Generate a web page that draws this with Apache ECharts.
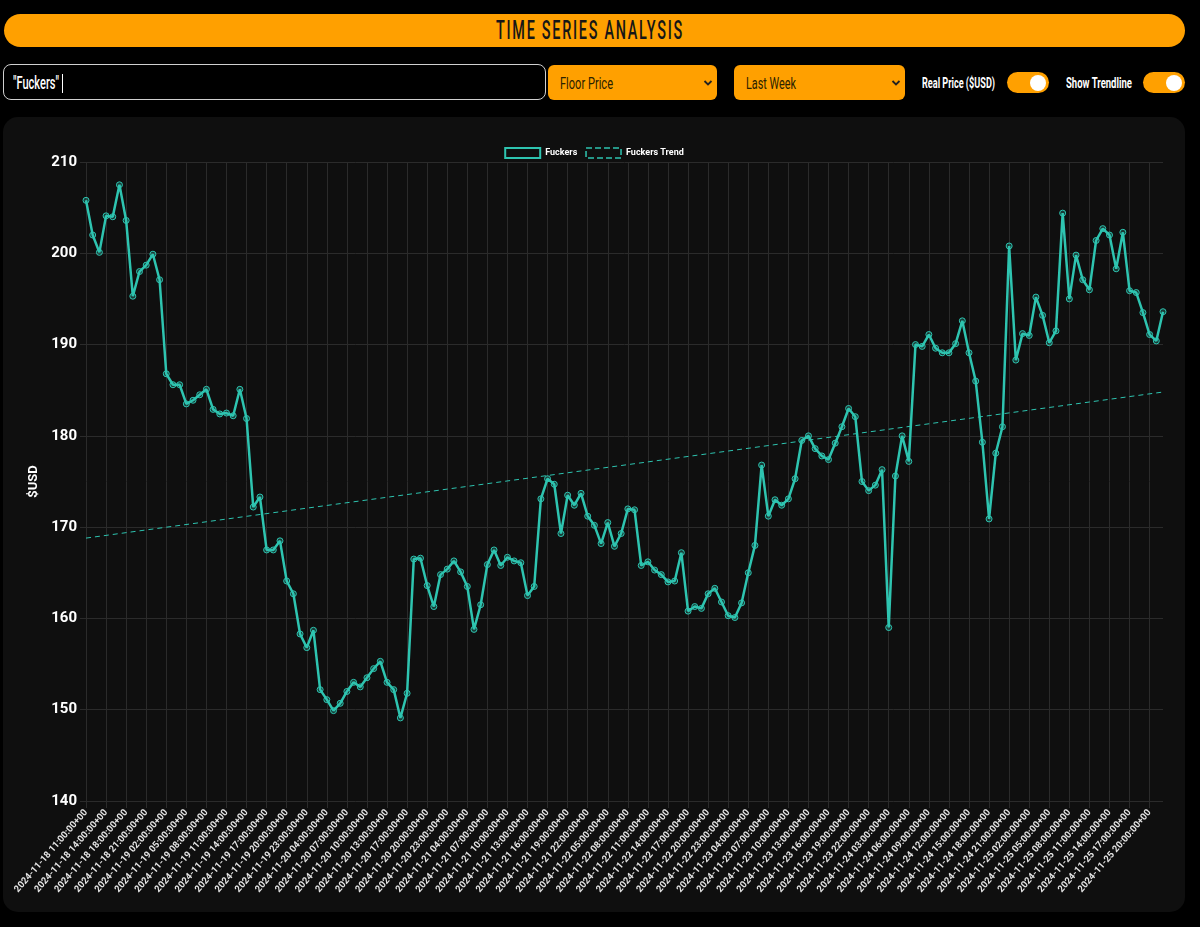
<!DOCTYPE html>
<html>
<head>
<meta charset="utf-8">
<script src="https://cdn.jsdelivr.net/npm/echarts@6/dist/echarts.min.js"></script>
<style>
  html, body { margin: 0; padding: 0; background: #000; width: 1200px; height: 927px; overflow: hidden; }
  body { font-family: Roboto, "Liberation Sans", sans-serif; position: relative; }
  .fit { display: inline-block; white-space: nowrap; transform-origin: 0 50%; }
  .title { position: absolute; left: 4px; top: 14px; width: 1181px; height: 33px; background: #ffa000; border-radius: 17px; }
  .title .fit { position: absolute; top: 3px; font-size: 25px; line-height: 28px; letter-spacing: 3px; color: #161616; font-weight: 500; }
  .search { position: absolute; left: 3px; top: 64px; width: 541px; height: 34px; border: 1.5px solid #d0d0d0; border-radius: 8px; background: #000; }
  .search .fit { position: absolute; left: 9px; top: 7px; color: #fff; font-size: 19px; line-height: 22px; font-weight: 500; }
  .caret { position: absolute; left: 58px; top: 9px; width: 1.2px; height: 19px; background: #fff; }
  .select { position: absolute; top: 65px; height: 35px; background: #ffa000; border-radius: 6px; }
  .select .fit { position: absolute; left: 12px; top: 8px; color: #2a2200; font-size: 17px; line-height: 21px; }
  .select svg { position: absolute; right: 4px; top: 14px; }
  .lbl { position: absolute; top: 74px; color: #fff; font-size: 15px; line-height: 18px; font-weight: bold; }
  .toggle { position: absolute; top: 72px; width: 42px; height: 21px; background: #ffa000; border-radius: 11px; }
  .toggle::after { content: ""; position: absolute; right: 3px; top: 2.5px; width: 16px; height: 16px; border-radius: 50%; background: #fff; }
  .panel { position: absolute; left: 3px; top: 117px; width: 1182px; height: 795px; background: #0f0f0f; border-radius: 15px; }
  #chart { position: absolute; left: 0; top: 0; width: 1182px; height: 795px; }
</style>
</head>
<body>
<div class="title"><span class="fit" data-w="188" data-x="496">TIME SERIES ANALYSIS</span></div>
<div class="search"><span class="fit" data-w="46">"Fuckers"</span><span class="caret"></span></div>
<div class="select" style="left:548px; width:169px;"><span class="fit" data-w="53">Floor Price</span>
  <svg width="10" height="8" viewBox="0 0 10 8"><path d="M1.5 2 L5 5.5 L8.5 2" stroke="#222" stroke-width="1.8" fill="none"/></svg></div>
<div class="select" style="left:734px; width:171px;"><span class="fit" data-w="50">Last Week</span>
  <svg width="10" height="8" viewBox="0 0 10 8"><path d="M1.5 2 L5 5.5 L8.5 2" stroke="#222" stroke-width="1.8" fill="none"/></svg></div>
<div class="lbl fit" style="left:922px;" data-w="73">Real Price ($USD)</div>
<div class="toggle" style="left:1007px;"></div>
<div class="lbl fit" style="left:1066px;" data-w="66">Show Trendline</div>
<div class="toggle" style="left:1143px;"></div>
<div class="panel"><div id="chart"></div></div>
<script>
// Shown tick labels (every third category)
const tickLabels = [
  "2024-11-18 11:00:00+00","2024-11-18 14:00:00+00","2024-11-18 18:00:00+00","2024-11-18 21:00:00+00",
  "2024-11-19 02:00:00+00","2024-11-19 05:00:00+00","2024-11-19 08:00:00+00","2024-11-19 11:00:00+00",
  "2024-11-19 14:00:00+00","2024-11-19 17:00:00+00","2024-11-19 20:00:00+00","2024-11-19 23:00:00+00",
  "2024-11-20 04:00:00+00","2024-11-20 07:00:00+00","2024-11-20 10:00:00+00","2024-11-20 13:00:00+00",
  "2024-11-20 17:00:00+00","2024-11-20 20:00:00+00","2024-11-20 23:00:00+00",
  "2024-11-21 04:00:00+00","2024-11-21 07:00:00+00","2024-11-21 10:00:00+00","2024-11-21 13:00:00+00",
  "2024-11-21 16:00:00+00","2024-11-21 19:00:00+00","2024-11-21 22:00:00+00",
  "2024-11-22 05:00:00+00","2024-11-22 08:00:00+00","2024-11-22 11:00:00+00","2024-11-22 14:00:00+00",
  "2024-11-22 17:00:00+00","2024-11-22 20:00:00+00","2024-11-22 23:00:00+00",
  "2024-11-23 04:00:00+00","2024-11-23 07:00:00+00","2024-11-23 10:00:00+00","2024-11-23 13:00:00+00",
  "2024-11-23 16:00:00+00","2024-11-23 19:00:00+00","2024-11-23 22:00:00+00",
  "2024-11-24 03:00:00+00","2024-11-24 06:00:00+00","2024-11-24 09:00:00+00","2024-11-24 12:00:00+00",
  "2024-11-24 15:00:00+00","2024-11-24 18:00:00+00","2024-11-24 21:00:00+00",
  "2024-11-25 02:00:00+00","2024-11-25 05:00:00+00","2024-11-25 08:00:00+00","2024-11-25 11:00:00+00",
  "2024-11-25 14:00:00+00","2024-11-25 17:00:00+00","2024-11-25 20:00:00+00"
];

// Floor price (USD), one value per hourly category
const floorPrice = [
  205.8,202.0,200.1,204.1,204.0,207.5,203.6,195.3,198.0,198.7,
  199.9,197.1,186.8,185.6,185.6,183.5,183.9,184.5,185.1,182.9,
  182.4,182.5,182.2,185.1,181.9,172.2,173.3,167.5,167.5,168.5,
  164.1,162.7,158.3,156.8,158.7,152.2,151.1,149.9,150.7,152.0,
  153.0,152.5,153.5,154.5,155.3,153.0,152.2,149.1,151.8,166.5,
  166.6,163.6,161.3,164.8,165.4,166.3,165.1,163.5,158.8,161.5,
  165.9,167.5,165.8,166.7,166.3,166.1,162.5,163.5,173.1,175.3,
  174.7,169.3,173.5,172.4,173.7,171.2,170.2,168.2,170.5,167.9,
  169.3,172.0,171.9,165.8,166.2,165.3,164.8,164.0,164.1,167.2,
  160.8,161.3,161.1,162.7,163.3,161.8,160.3,160.1,161.7,165.0,
  168.0,176.8,171.2,173.0,172.4,173.1,175.3,179.5,180.0,178.6,
  177.8,177.4,179.2,181.0,183.0,182.1,175.0,174.0,174.6,176.3,
  159.0,175.6,180.0,177.2,190.0,189.8,191.1,189.6,189.1,189.1,
  190.1,192.6,189.1,186.0,179.3,170.9,178.1,181.0,200.8,188.3,
  191.2,191.0,195.2,193.2,190.2,191.5,204.4,195.0,199.8,197.1,
  196.0,201.4,202.7,202.0,198.3,202.3,195.9,195.7,193.5,191.1,
  190.4,193.6
];

// Trendline end values
const trendStart = 168.8;
const trendEnd = 184.8;

const yTicks = { min: 140, max: 210, interval: 10 };

// ---- squeeze HTML text to the condensed widths of the original ----
document.querySelectorAll(".fit").forEach(el => {
  const w = el.getBoundingClientRect().width;
  const target = +el.dataset.w;
  el.style.transform = "scaleX(" + (target / w) + ")";
  if (el.dataset.x) el.style.left = (+el.dataset.x - 4) + "px";
});

const font = 'Roboto, "Liberation Sans", sans-serif';

// Build hourly categories: each shown label followed by the next two hours
function fmt(d) {
  const p = n => String(n).padStart(2, "0");
  return d.getUTCFullYear() + "-" + p(d.getUTCMonth() + 1) + "-" + p(d.getUTCDate()) + " " + p(d.getUTCHours()) + ":00:00+00";
}
const categories = [];
tickLabels.forEach(t => {
  const base = new Date(t.replace(" ", "T").replace("+00", "Z"));
  for (let k = 0; k < 3; k++) categories.push(fmt(new Date(base.getTime() + k * 3600000)));
});
categories.length = floorPrice.length;

const trendData = floorPrice.map((v, i) => i === 0 ? trendStart : (i === floorPrice.length - 1 ? trendEnd : null));

const teal = "#2ec4b0";
const gridColor = "#2b2b2b";

const chart = echarts.init(document.getElementById("chart"), null, { renderer: "canvas" });
chart.setOption({
  backgroundColor: "transparent",
  animation: false,
  textStyle: { fontFamily: font },
  legend: {
    top: 25, left: "center", itemWidth: 35, itemHeight: 10, itemGap: 8,
    textStyle: { color: "#fff", fontSize: 9, fontWeight: "bold", fontFamily: font },
    data: [
      { name: "Fuckers", icon: "rect", itemStyle: { color: "#0f0f0f", borderColor: teal, borderWidth: 2 } },
      { name: "Fuckers Trend", icon: "rect", itemStyle: { color: "#0f0f0f", borderColor: teal, borderWidth: 1.5, borderType: "dashed" } }
    ]
  },
  grid: { left: 83, top: 45, width: 1077, height: 639, containLabel: false, outerBoundsMode: "none" },
  xAxis: {
    type: "category", data: categories, boundaryGap: false,
    axisLine: { show: false },
    axisTick: { show: true, interval: 2, length: 7, lineStyle: { color: gridColor } },
    splitLine: { show: true, interval: 2, lineStyle: { color: gridColor, width: 1 } },
    axisLabel: { interval: 2, rotate: 49, margin: 10, color: "#e6e6e6", fontSize: 9.4, fontWeight: "bold", fontFamily: font, hideOverlap: false }
  },
  yAxis: {
    type: "value", min: yTicks.min, max: yTicks.max, interval: yTicks.interval,
    name: "$USD", nameLocation: "middle", nameGap: 36, nameRotate: 90,
    nameTextStyle: { color: "#fff", fontSize: 13, fontWeight: "bold", fontFamily: font },
    axisLine: { show: false },
    axisTick: { show: true, length: 6, lineStyle: { color: gridColor } },
    splitLine: { show: true, lineStyle: { color: gridColor, width: 1 } },
    axisLabel: { color: "#fff", fontSize: 15, fontWeight: "bold", margin: 9, fontFamily: font }
  },
  series: [
    {
      name: "Fuckers", type: "line", data: floorPrice,
      symbol: "circle", symbolSize: 6, showAllSymbol: true,
      lineStyle: { color: teal, width: 2.5 },
      itemStyle: { color: "rgba(46,196,176,0.25)", borderColor: teal, borderWidth: 1 },
      z: 3
    },
    {
      name: "Fuckers Trend", type: "line", data: trendData, connectNulls: true,
      symbol: "none",
      lineStyle: { color: teal, width: 1, type: [5, 4] },
      itemStyle: { color: teal },
      z: 2
    }
  ]
});
</script>
</body>
</html>
